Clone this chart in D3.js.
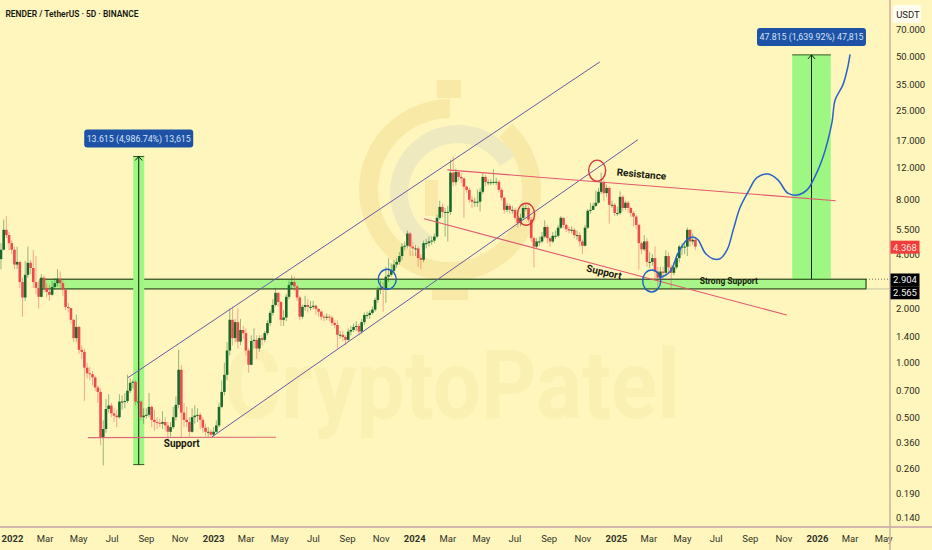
<!DOCTYPE html>
<html><head><meta charset="utf-8">
<script src="https://cdn.jsdelivr.net/npm/d3@7"></script>
<style>html,body{margin:0;padding:0;background:#fef6bd}svg{display:block}text{font-family:Roboto,sans-serif}</style>
</head><body><svg id="c" width="932" height="550"></svg>
<script>
const title = "RENDER / TetherUS · 5D · BINANCE";
const firstOpen = 3.75;
const closes = [
4.23,5.45,5.1,4.6,4.23,3.5,3.62,2.8,2.3,3.07,3.58,3.35,2.8,2.6,2.32,2.96,2.6,2.47,2.38,2.63,
2.76,2.92,2.76,2.54,2.04,2.01,1.73,1.37,1.58,1.18,1.15,.94,.875,.865,.83,.73,.69,.385,.43,.555,
.58,.525,.51,.50,.61,.61,.615,.70,.775,.785,.61,.61,.50,.51,.515,.57,.483,.47,.465,.46,
.47,.45,.415,.44,.50,.585,.915,.53,.483,.47,.415,.50,.51,.515,.483,.437,.415,.415,.40,.415,
.45,.57,.69,.858,1.17,1.73,1.37,1.68,1.31,1.52,1.46,1.17,.975,1.32,1.34,1.2,1.37,1.34,1.46,1.66,
1.89,2.09,2.44,2.17,1.73,1.78,2.32,2.7,2.8,2.65,2.3,1.8,2.04,2.09,2.04,2.04,2.07,1.99,1.92,1.8,
1.78,1.8,1.78,1.66,1.62,1.43,1.43,1.39,1.34,1.49,1.52,1.58,1.6,1.49,1.68,1.84,1.84,1.89,1.97,2.23,
2.54,2.6,2.54,3.0,3.07,3.23,3.5,3.62,3.9,4.4,4.45,5.2,4.4,4.3,4.3,3.8,3.72,4.6,4.6,4.7,
4.75,5.0,6.35,7.3,6.85,6.85,6.85,11.3,10,11.4,10.7,10.5,9.45,9.07,8,7.8,7.8,7.8,8.85,10.7,
10,10,10,10.05,10.05,9.07,8.2,7.03,7.4,7.03,7.03,6.35,5.95,6.35,7.2,7.2,6.2,4.9,4.4,4.7,
4.7,5,5.65,4.9,4.7,5.05,5.05,5.6,6.35,5.8,5.5,5.4,5.45,5.1,5.1,4.7,4.45,5.6,6.95,7.03,
7.4,7.7,8.85,10,8.7,9.3,7.5,7.5,6.75,6.75,8.3,7.2,7.7,7.2,6.75,6.45,5.8,4.6,4.25,4.7,
3.62,3.62,3.8,3.2,2.96,3.2,3.15,3.9,3.38,3.15,3.38,3.8,4.4,4.4,4.4,5.45,4.7,4.8,4.4];
const highs = [
4.6,6.2,6.5,5.3,4.8,4.4,4.4,3.65,2.95,3.65,4.4,3.7,4.2,3.9,2.85,3.1,3.05,2.75,2.7,2.85,
2.95,3.3,3.2,2.85,2.54,2.15,2.0,1.75,1.85,1.6,1.25,1.2,1.0,.95,.9,.85,.75,.72,.48,.63,
.67,.6,.56,.55,.67,.66,.68,.86,.82,.81,.8,.66,.62,.56,.56,.68,.58,.55,.5,.49,
.54,.5,.47,.47,.57,.65,1.18,.97,.6,.57,.5,.56,.58,.56,.53,.5,.46,.44,.43,.44,
.48,.6,.8,1.0,1.3,2.0,2.05,1.75,2.0,1.75,1.6,1.55,1.2,1.42,1.55,1.42,1.42,1.42,1.5,1.72,
1.95,2.25,2.6,2.45,2.2,1.95,2.4,2.85,3.05,3.0,2.7,2.35,2.1,2.35,2.25,2.2,2.2,2.1,2.0,1.95,
1.85,1.88,1.85,1.82,1.72,1.72,1.5,1.5,1.42,1.55,1.6,1.65,1.7,1.65,1.75,1.9,1.92,1.95,2.05,2.3,
2.65,2.85,2.8,3.4,3.8,3.55,3.7,3.8,4.1,4.6,4.7,5.4,5.3,4.65,4.5,4.4,4.0,4.75,4.85,5.0,
5.0,5.2,6.6,7.9,7.6,7.2,7.4,13.3,13.9,11.9,11.4,11.2,10.6,9.6,9.3,8.4,8.2,9.1,9.3,11.2,
11,10.4,10.4,11.8,10.6,10.3,9.3,8.3,7.7,7.6,7.4,7.2,6.5,6.7,7.5,7.6,7.3,6.4,5,4.9,
5.0,5.3,6.15,5.8,5.0,5.3,5.4,5.8,6.5,6.4,5.9,5.7,5.7,5.6,5.4,5.3,4.8,5.8,7.1,7.7,
7.7,9.0,9.3,11.3,10.3,9.7,9.5,7.9,7.7,7.3,8.9,8.5,7.9,7.9,7.3,6.9,6.6,5.9,4.7,5.1,
4.9,4.1,4.0,4.4,3.4,3.4,3.4,4.2,4.1,3.5,3.6,4.0,4.5,4.6,4.7,5.6,5.5,5.2,4.9];
const lows = [
3.3,4.2,4.9,4.2,4.0,3.3,3.3,2.6,1.8,2.2,2.95,3.1,2.6,2.4,2.0,2.3,2.45,2.3,2.2,2.35,
2.55,2.65,2.6,2.35,1.95,1.9,1.65,1.3,1.3,1.12,1.05,.615,.82,.8,.75,.7,.6,.35,.27,.41,
.53,.5,.47,.44,.49,.55,.56,.6,.68,.72,.58,.56,.48,.46,.49,.5,.44,.42,.43,.44,
.43,.42,.37,.39,.43,.48,.56,.39,.44,.44,.39,.41,.46,.47,.43,.41,.39,.39,.385,.39,
.41,.44,.56,.66,.8,1.1,1.25,1.3,1.2,1.25,1.35,1.1,.88,.97,1.2,1.05,1.15,1.25,1.3,1.42,
1.6,1.82,2.05,2.05,1.6,1.6,1.7,2.25,2.55,2.5,2.2,1.72,1.75,1.95,1.9,1.95,1.98,1.85,1.8,1.72,
1.7,1.72,1.7,1.6,1.55,1.2,1.36,1.32,1.25,1.32,1.42,1.48,1.5,1.42,1.45,1.62,1.75,1.75,1.85,1.92,
2.15,2.4,1.92,2.15,2.8,3.0,3.15,3.35,3.5,3.7,4.2,4.3,3.9,3.9,3.9,3.4,3.3,3.6,4.3,4.4,
4.5,4.6,4.9,6.2,6.4,5.0,4.7,6.6,9.5,9.6,10.2,9.9,6.35,8.7,7.7,7.2,7.3,7.3,6.9,8.6,
9.5,9.6,9.6,9.7,9.6,8.8,7.9,6.7,6.8,6.7,6.7,6.2,5.6,5.7,6.2,6.9,6,4.7,3.38,4.3,
4.45,4.6,4.9,4.6,4.4,4.6,4.85,4.95,5.5,5.6,5.3,5.2,5.2,4.9,4.8,4.4,4.0,4.4,5.5,6.7,
7.0,7.3,7.6,8.6,7.9,8.3,5.9,7.2,6.5,6.5,6.6,6.9,7.0,6.8,6.4,5.7,5.5,3.28,4.0,4.15,
3.4,3.35,3.45,2.9,2.6,2.85,2.9,3.0,3.1,2.54,3.05,3.3,3.6,3.95,4.0,3.9,4.4,4.5,4.2];

const priceTicks = [70,50,35,25,17,12,8,5.5,4,2,1.4,1,.7,.5,.36,.26,.19,.14];
const monthTicks = [["2022-01-01","2022"],["2022-03-01","Mar"],["2022-05-01","May"],["2022-07-01","Jul"],["2022-09-01","Sep"],["2022-11-01","Nov"],
["2023-01-01","2023"],["2023-03-01","Mar"],["2023-05-01","May"],["2023-07-01","Jul"],["2023-09-01","Sep"],["2023-11-01","Nov"],
["2024-01-01","2024"],["2024-03-01","Mar"],["2024-05-01","May"],["2024-07-01","Jul"],["2024-09-01","Sep"],["2024-11-01","Nov"],
["2025-01-01","2025"],["2025-03-01","Mar"],["2025-05-01","May"],["2025-07-01","Jul"],["2025-09-01","Sep"],["2025-11-01","Nov"],
["2026-01-01","2026"],["2026-03-01","Mar"],["2026-05-01","May"]];

// Drawings: [days after 2022-01-01, price]
const channelUpper = [[210,.826],[1067,46.4]];
const channelLower = [[363,.389],[1136,17.2]];
const baseSupport = [[138,.385],[479,.387]];
const resistance = [[790,11.7],[1495,7.9]];
const fallingSupport = [[748,6.27],[1406,1.84]];
const zoneDays = [51,1550], zonePrices = [2.904,2.565];
const moveLeft = {days:[220,240], from:.273, to:13.888, label:"13.615 (4,986.74%) 13,615"};
const moveRight = {days:[1416,1486], from:2.904, to:50.719, label:"47.815 (1,639.92%) 47,815"};
const projDays = [1176,1194,1209,1225,1236,1245,1258,1272,1285,1298,1309,1321,1336,1352,1372,1390,1408,1425,1443,1457,1472,1488,1494,1508,1517,1521];
const projPrices = [2.96,3.19,4.06,4.8,4.98,4.8,4.06,3.77,3.77,4.23,5.45,7.2,8.85,10.6,11.1,10.3,8.7,8.5,9.07,10.7,13.8,21.3,28.6,34.6,43.6,51];
const rings = [
 {days:681,price:2.9,rx:9,ry:10,c:"#1f5fc4"},
 {days:933,price:6.65,rx:8.5,ry:11,c:"#d8383f"},
 {days:1062,price:11.6,rx:8.5,ry:10.5,c:"#d8383f"},
 {days:1161,price:2.84,rx:9,ry:11,c:"#1f5fc4"}];
const notes = [
 {t:"Support",days:308,price:.34,rot:0,fs:10},
 {t:"Support",days:1073,price:3.05,rot:13,fs:10},
 {t:"Resistance",days:1142,price:10.6,rot:5,fs:10},
 {t:"Strong Support",days:1301,price:2.72,rot:0,fs:8.5}];
const lastPrice = 4.368;

const W=932,H=550,plotR=890,plotB=527;
const day0 = Date.UTC(2022,0,1);
const D = n => new Date(day0 + n*864e5);
const x = d3.scaleUtc().domain([new Date("2022-01-01T00:00Z"),new Date("2026-01-01T00:00Z")]).range([12,817]);
const y = d3.scaleLog().domain([.14,50]).range([517,56]);
const svg = d3.select("#c");
svg.append("rect").attr("width",W).attr("height",H).attr("fill","#fef6bd");
const defs = svg.append("defs");
defs.append("clipPath").attr("id","p").append("rect").attr("width",plotR).attr("height",plotB);
const g = svg.append("g").attr("clip-path","url(#p)");

// watermark
const wm = g.append("g");
const arc = d3.arc();
wm.append("path").attr("transform","translate(450,190)").attr("fill","#f8eaa6")
  .attr("d",arc({innerRadius:72,outerRadius:91,startAngle:0.75,endAngle:2*Math.PI}));
wm.append("path").attr("transform","translate(458,193)").attr("fill","#efe9c0")
  .attr("d",arc({innerRadius:50,outerRadius:68,startAngle:-2.6,endAngle:1.0}));
wm.append("rect").attr("x",425).attr("y",180).attr("width",13).attr("height",36).attr("fill","#f8eaa6");
wm.append("rect").attr("x",432).attr("y",284).attr("width",36).attr("height",16).attr("fill","#f8eaa6");
wm.append("rect").attr("x",437).attr("y",80).attr("width",24).attr("height",18).attr("fill","#f8eaa6");
wm.append("text").attr("x",225).attr("y",418).attr("font-size",96).attr("font-weight",700)
  .attr("textLength",455).attr("lengthAdjust","spacingAndGlyphs").attr("fill","#faf0b2").text("CryptoPatel");

// zone
const zx0=x(D(zoneDays[0])),zx1=x(D(zoneDays[1])),zy0=y(zonePrices[0]),zy1=y(zonePrices[1]);
g.append("rect").attr("x",zx0).attr("y",zy0).attr("width",zx1-zx0).attr("height",zy1-zy0)
  .attr("fill","#a8f58a").attr("stroke","#1d3a12").attr("stroke-width",1.1);

// bands
function band(m){
  const a=x(D(m.days[0])),b=x(D(m.days[1])),t=y(m.to),u=y(m.from),c=(a+b)/2;
  g.append("rect").attr("x",a).attr("y",t).attr("width",b-a).attr("height",u-t).attr("fill","#9ff783");
  g.append("line").attr("x1",a).attr("x2",b).attr("y1",t).attr("y2",t).attr("stroke","#2f5a1e");
  g.append("line").attr("x1",a).attr("x2",b).attr("y1",u).attr("y2",u).attr("stroke","#2f5a1e");
  g.append("line").attr("x1",c).attr("x2",c).attr("y1",t).attr("y2",u).attr("stroke","#0c200a").attr("stroke-width",1);
  g.append("path").attr("d",`M${c-3.5},${t+4}L${c},${t}L${c+3.5},${t+4}`).attr("fill","none").attr("stroke","#0c200a");
  const lw=109,lh=18,ly=t-27;
  const lg=svg.append("g");
  lg.append("rect").attr("x",c-lw/2).attr("y",ly).attr("width",lw).attr("height",lh).attr("rx",3).attr("fill","#1d52a6");
  lg.append("text").attr("x",c).attr("y",ly+12.3).attr("text-anchor","middle").attr("font-size",8.8).attr("fill","#d5e2f5").text(m.label);
}
band(moveLeft); band(moveRight);

// candles
const dates = closes.map((_,i)=> new Date(Date.UTC(2021,11,12)+i*4.885*864e5));
const opens = closes.map((_,i)=> i? closes[i-1] : firstOpen);
const candle = g.append("g");
closes.forEach((c,i)=>{
  const o=opens[i], col = c>=o ? "#176a2b" : "#ec4a4c", X=x(dates[i]);
  candle.append("line").attr("x1",X).attr("x2",X).attr("y1",y(highs[i])).attr("y2",y(lows[i]))
    .attr("stroke",col).attr("stroke-width",.9).attr("opacity",.5);
  const t=Math.min(y(o),y(c)),h=Math.max(1,Math.abs(y(o)-y(c)));
  candle.append("rect").attr("x",X-1.3).attr("y",t).attr("width",2.6).attr("height",h).attr("fill",col);
});

// trend lines
function seg(pts,col,w){
  g.append("line").attr("x1",x(D(pts[0][0]))).attr("y1",y(pts[0][1])).attr("x2",x(D(pts[1][0]))).attr("y2",y(pts[1][1]))
   .attr("stroke",col).attr("stroke-width",w||1);
}
seg(channelUpper,"#6a5aa8"); seg(channelLower,"#6a5aa8");
seg(baseSupport,"#d9667a",1.1); seg(resistance,"#e25a70",1.1); seg(fallingSupport,"#e25a70",1.1);

// rings
rings.forEach(r=>{
  g.append("ellipse").attr("cx",x(D(r.days))).attr("cy",y(r.price)).attr("rx",r.rx).attr("ry",r.ry)
   .attr("fill","none").attr("stroke",r.c).attr("stroke-width",1.4);
});

// projection
g.append("path").attr("d",d3.line().x((d,i)=>x(D(d))).y((d,i)=>y(projPrices[i])).curve(d3.curveCatmullRom)(projDays))
 .attr("fill","none").attr("stroke","#2a62c8").attr("stroke-width",1.5);

// notes
notes.forEach(n=>{
  const X=x(D(n.days)),Y=y(n.price);
  g.append("text").attr("transform",`translate(${X},${Y}) rotate(${n.rot})`).attr("text-anchor","middle")
   .attr("font-size",n.fs).attr("font-weight",700).attr("fill","#1a1a10").text(n.t);
});

// zone leaders
svg.append("line").attr("x1",zx1).attr("x2",plotR).attr("y1",zy0).attr("y2",zy0).attr("stroke","#444").attr("stroke-dasharray","1 2").attr("stroke-width",.8);
svg.append("line").attr("x1",zx1).attr("x2",plotR).attr("y1",zy1).attr("y2",zy1).attr("stroke","#b5b59a").attr("stroke-width",.8);

// axes
const yAxis = d3.axisRight(y).tickValues(priceTicks).tickFormat(d3.format(".3f")).tickSize(0).tickPadding(6);
const ya = svg.append("g").attr("transform",`translate(${plotR},0)`).call(yAxis);
ya.select(".domain").remove();
ya.selectAll("text").attr("font-size",9.5).attr("font-family","Roboto").attr("fill","#2b2b22");
const xAxis = d3.axisBottom(x).tickValues(monthTicks.map(m=>new Date(m[0]+"T00:00Z"))).tickFormat((d,i)=>monthTicks[i][1]).tickSize(0).tickPadding(8);
const xa = svg.append("g").attr("transform",`translate(0,${plotB})`).call(xAxis);
xa.select(".domain").remove();
xa.selectAll("text").attr("font-size",9.5).attr("font-family","Roboto").attr("fill","#33332a")
  .attr("font-weight",(d,i)=>/^\d/.test(monthTicks[i][1])?700:400);
svg.append("line").attr("x1",0).attr("x2",W).attr("y1",plotB).attr("y2",plotB).attr("stroke","#c99fa8").attr("stroke-width",1.6);
svg.append("line").attr("x1",plotR).attr("x2",plotR).attr("y1",0).attr("y2",H).attr("stroke","#cdb6a0").attr("stroke-width",1.6);

// price tags
function tag(cy,bg,fg,txt){
  svg.append("rect").attr("x",plotR+.5).attr("y",cy-6.5).attr("width",29).attr("height",13).attr("fill",bg);
  svg.append("text").attr("x",plotR+15).attr("y",cy+3.4).attr("text-anchor","middle").attr("font-size",9.5).attr("fill",fg).text(txt);
}
tag(y(lastPrice),"#f23d3d","#ffe0dc",d3.format(".3f")(lastPrice));
tag(280,"#000","#f1f1f1","2.904");
tag(292.8,"#000","#f1f1f1","2.565");
svg.append("rect").attr("x",893).attr("y",5).attr("width",28).attr("height",18).attr("rx",2).attr("fill","#fffdf0");
svg.append("text").attr("x",908).attr("y",17.5).attr("text-anchor","middle").attr("font-size",9.5).attr("fill","#222").text("USDT");
svg.append("text").attr("x",5.5).attr("y",17).attr("font-size",9).attr("font-weight",600).attr("font-family","'Open Sans'")
  .attr("textLength",133).attr("lengthAdjust","spacingAndGlyphs").attr("fill","#15150f").text(title);
</script></body></html>
